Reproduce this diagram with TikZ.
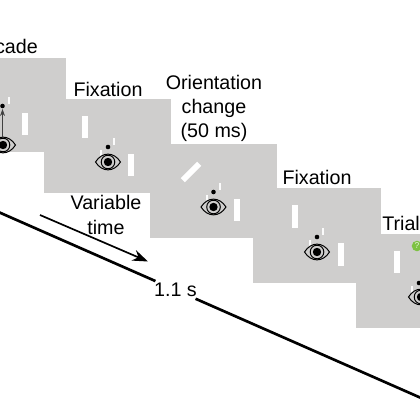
\documentclass[tikz,border=0pt]{standalone}
\usepackage{fontspec}
\setmainfont{Liberation Sans}
\usetikzlibrary{arrows.meta}
\definecolor{panelgray}{HTML}{CFCECD}
\definecolor{cuegreen}{HTML}{7DC242}
\tikzset{
  panel/.style={fill=panelgray},
  barmark/.style={fill=white},
  tickmark/.style={fill=white!92!panelgray},
  steplabel/.style={font=\fontsize{14}{17}\selectfont,inner sep=0pt,align=center},
  pics/fixdot/.style={code={
    \fill[tickmark] (5,-9) rectangle (7,-2);
    \fill[tickmark] (-8,3) rectangle (-6,10);
    \fill[black] (0,0) circle (2.3);
  }},
  pics/eyeicon/.style={code={
    \draw[line width=0.7pt,fill=panelgray] (-12.5,0) .. controls (-6,-10.5) and (6,-10.5) .. (12.5,0)
      .. controls (6,10.5) and (-6,10.5) .. (-12.5,0) -- cycle;
    \draw[line width=0.7pt,fill=panelgray] (0,0) circle (6.8);
    \fill[black] (0,0) circle (4.2);
  }}
}
\begin{document}
\begin{tikzpicture}[
    x=0.025cm,
    y=-0.025cm,
    >=Stealth
  ]
    \useasboundingbox (0,0) rectangle (420,420);
    \clip (0,0) rectangle (420,420);

    % panels
    \fill[panel] (-20,58) rectangle (66,152);
    \fill[panel] (44,99) rectangle (171,193);
    \fill[panel] (150,144) rectangle (277,238);
    \fill[panel] (253,188) rectangle (381,283);
    \fill[panel] (356,234) rectangle (440,328);

    % saccade
    \fill[barmark] (22,113) rectangle (28,135);
    \pic at (2.5,106) {fixdot};
    \pic at (3,145) {eyeicon};
    \coordinate (saccfrom) at (2.5,137);
    \coordinate (saccto) at (2.5,109);
    \draw[-{Stealth[length=5pt,width=3.5pt]},line width=0.5pt,black!75] (saccfrom) -- (saccto);

    % fixation
    \fill[barmark] (82,116) rectangle (88,138);
    \fill[barmark] (128,154) rectangle (134,176);
    \pic at (108,147) {fixdot};
    \pic at (108,162) {eyeicon};

    % orientation change
    \fill[barmark,rotate around={45:(191,172)}] (179.5,169) rectangle (202.5,175);
    \fill[barmark] (234,199) rectangle (240,221);
    \pic at (213.5,192) {fixdot};
    \pic at (213.5,207) {eyeicon};

    % second fixation
    \fill[barmark] (292,205) rectangle (298,228);
    \fill[barmark] (338,243) rectangle (344,266);
    \pic at (317,237) {fixdot};
    \pic at (317,252) {eyeicon};

    % trial end
    \fill[barmark] (394,251) rectangle (400,273);
    \pic at (419,283) {fixdot};
    \pic at (421,297) {eyeicon};
    \node[circle,fill=cuegreen,minimum size=7.5pt,inner sep=0pt,
      font=\fontsize{6}{6}\selectfont,text=white!80!cuegreen] (cue) at (417,246) {?};

    \node[steplabel,anchor=base east] (saccadelabel) at (38,54) {Saccade};
    \node[steplabel,anchor=base] (fixlabela) at (108,96) {Fixation};
    \node[steplabel] (orientlabel) at (214,108.5) {Orientation\\change\\(50 ms)};
    \node[steplabel,anchor=base] (fixlabelb) at (317,184) {Fixation};
    \node[steplabel,anchor=base west] (triallabel) at (382,230) {Trial};
    \node[steplabel] (varlabel) at (106,215) {Variable\\[1pt]time};

    % time axis
    \coordinate (varfrom) at (40,215);
    \coordinate (varto) at (148,261.5);
    \draw[-{Stealth[length=11pt,width=8pt]},line width=1.2pt] (varfrom) -- (varto);

    \node[font=\fontsize{14}{17}\selectfont,inner sep=1.2pt] (durlabel) at (175.5,289.9) {1.1 s};
    \coordinate (axisfrom) at (-20,203.9);
    \coordinate (axisto) at (440,406.3);
    \draw[line width=1.9pt] (axisfrom) -- (durlabel) -- (axisto);
  \end{tikzpicture}
\end{document}
